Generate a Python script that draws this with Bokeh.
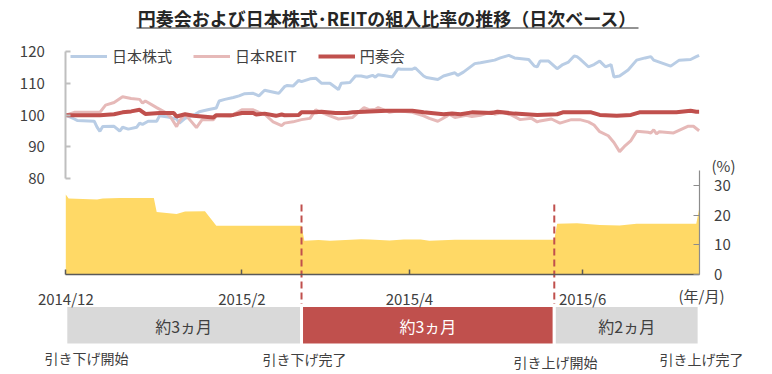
import pandas as pd
from bokeh.plotting import figure
from bokeh.models import (Range1d, LinearAxis, FixedTicker, Legend, LegendItem,
                          ColumnDataSource)
from bokeh.embed import file_html
from bokeh.resources import INLINE
from bokeh.core.properties import value

FONT = "Noto Sans CJK JP"

# ---------------- data ----------------
title_text = "円奏会および日本株式･REITの組入比率の推移（日次ベース）"
series_names = ["日本株式", "日本REIT", "円奏会"]

stock_dates = ["2014-12-01", "2014-12-04", "2014-12-05", "2014-12-11", "2014-12-12", "2014-12-13",
               "2014-12-14", "2014-12-18", "2014-12-20", "2014-12-21", "2014-12-23", "2014-12-26",
               "2014-12-27", "2014-12-28", "2014-12-30", "2015-01-02", "2015-01-03", "2015-01-06",
               "2015-01-09", "2015-01-10", "2015-01-12", "2015-01-15", "2015-01-17", "2015-01-20",
               "2015-01-23", "2015-01-24", "2015-01-26", "2015-01-29", "2015-01-31", "2015-02-02",
               "2015-02-05", "2015-02-07", "2015-02-09", "2015-02-13", "2015-02-14", "2015-02-16",
               "2015-02-17", "2015-02-19", "2015-02-21", "2015-02-22", "2015-02-25", "2015-02-27",
               "2015-03-01", "2015-03-04", "2015-03-07", "2015-03-08", "2015-03-11", "2015-03-13",
               "2015-03-15", "2015-03-17", "2015-03-19", "2015-03-20", "2015-03-21", "2015-03-24",
               "2015-03-26", "2015-03-28", "2015-03-29", "2015-04-02", "2015-04-03", "2015-04-06",
               "2015-04-07", "2015-04-11", "2015-04-13", "2015-04-17", "2015-04-18", "2015-04-20",
               "2015-04-24", "2015-04-26", "2015-05-01", "2015-05-03", "2015-05-06", "2015-05-08",
               "2015-05-13", "2015-05-15", "2015-05-16", "2015-05-17", "2015-05-20", "2015-05-23",
               "2015-05-25", "2015-05-27", "2015-05-29", "2015-05-30", "2015-05-31", "2015-06-03",
               "2015-06-05", "2015-06-07", "2015-06-09", "2015-06-11", "2015-06-12", "2015-06-14",
               "2015-06-17", "2015-06-20", "2015-06-23", "2015-06-25", "2015-06-26", "2015-07-02",
               "2015-07-05", "2015-07-09", "2015-07-11", "2015-07-12"]
stock_values = [100.0, 98.8, 98.35, 98.1, 96.2, 94.9,
                96.4, 96.5, 95.0, 96.2, 95.6, 96.2,
                97.5, 97.1, 98.1, 98.1, 99.8, 99.4,
                98.8, 97.5, 99.0, 100.0, 101.1, 101.7,
                102.3, 104.5, 105.0, 105.6, 106.1, 106.8,
                106.9, 106.1, 107.9, 107.1, 106.9, 109.0,
                109.4, 109.2, 111.0, 110.6, 111.5, 111.7,
                110.1, 110.1, 108.1, 110.1, 110.3, 112.4,
                112.4, 112.0, 112.6, 112.0, 112.8, 112.4,
                112.1, 114.7, 114.5, 114.5, 115.0, 112.4,
                111.9, 111.3, 112.4, 113.4, 112.6, 113.6,
                116.3, 116.6, 117.4, 118.1, 118.9, 118.1,
                117.6, 115.5, 115.3, 117.1, 117.1, 114.7,
                116.0, 116.8, 118.7, 118.5, 117.8, 115.3,
                116.0, 117.1, 115.3, 116.0, 112.1, 112.4,
                114.3, 117.4, 118.1, 118.5, 117.4, 115.5,
                117.4, 117.6, 118.5, 118.9]

reit_dates = ["2014-12-01", "2014-12-04", "2014-12-13", "2014-12-15", "2014-12-18", "2014-12-21",
              "2014-12-24", "2014-12-27", "2014-12-28", "2014-12-29", "2015-01-02", "2015-01-05",
              "2015-01-07", "2015-01-09", "2015-01-10", "2015-01-12", "2015-01-14", "2015-01-16",
              "2015-01-18", "2015-01-22", "2015-01-23", "2015-01-28", "2015-01-30", "2015-02-01",
              "2015-02-05", "2015-02-07", "2015-02-09", "2015-02-12", "2015-02-15", "2015-02-16",
              "2015-02-19", "2015-02-22", "2015-02-25", "2015-02-27", "2015-03-01", "2015-03-04",
              "2015-03-07", "2015-03-09", "2015-03-12", "2015-03-14", "2015-03-16", "2015-03-18",
              "2015-03-20", "2015-03-21", "2015-03-23", "2015-03-25", "2015-03-28", "2015-04-02",
              "2015-04-06", "2015-04-08", "2015-04-11", "2015-04-14", "2015-04-15", "2015-04-17",
              "2015-04-21", "2015-04-23", "2015-04-26", "2015-04-30", "2015-05-01", "2015-05-04",
              "2015-05-07", "2015-05-10", "2015-05-14", "2015-05-16", "2015-05-17", "2015-05-21",
              "2015-05-24", "2015-05-28", "2015-05-31", "2015-06-03", "2015-06-05", "2015-06-07",
              "2015-06-10", "2015-06-12", "2015-06-14", "2015-06-16", "2015-06-18", "2015-06-20",
              "2015-06-24", "2015-06-25", "2015-06-26", "2015-06-27", "2015-06-28", "2015-07-03",
              "2015-07-08", "2015-07-10", "2015-07-12"]
reit_values = [100.0, 100.9, 100.9, 103.2, 104.0, 105.8,
               105.3, 105.0, 103.8, 104.5, 102.4, 100.9,
               99.3, 96.4, 98.2, 100.3, 98.2, 96.1,
               98.6, 98.6, 99.8, 99.6, 100.7, 101.7,
               101.7, 100.9, 100.3, 97.9, 96.7, 97.5,
               97.9, 98.6, 99.0, 101.7, 100.9, 99.8,
               98.8, 99.0, 99.3, 100.9, 102.4, 101.7,
               101.9, 102.4, 101.7, 100.9, 101.4, 100.9,
               99.8, 99.0, 98.1, 99.6, 100.3, 99.3,
               100.0, 99.6, 100.0, 101.1, 100.3, 100.9,
               100.0, 98.6, 99.0, 97.9, 98.2, 98.8,
               97.5, 98.6, 98.6, 97.9, 96.9, 94.8,
               93.5, 91.4, 88.5, 90.4, 92.0, 94.9,
               94.6, 94.4, 95.4, 94.1, 94.8, 94.4,
               96.5, 96.5, 95.1]

fund_dates = ["2014-12-01", "2014-12-13", "2014-12-18", "2014-12-21", "2014-12-24", "2014-12-27",
              "2014-12-29", "2015-01-03", "2015-01-08", "2015-01-09", "2015-01-12", "2015-01-15",
              "2015-01-22", "2015-01-23", "2015-01-29", "2015-02-01", "2015-02-05", "2015-02-06",
              "2015-02-09", "2015-02-13", "2015-02-15", "2015-02-16", "2015-02-21", "2015-02-22",
              "2015-02-27", "2015-03-01", "2015-03-06", "2015-03-10", "2015-03-12", "2015-03-24",
              "2015-04-02", "2015-04-06", "2015-04-13", "2015-04-16", "2015-04-19", "2015-04-23",
              "2015-04-30", "2015-05-02", "2015-05-08", "2015-05-12", "2015-05-16", "2015-05-23",
              "2015-05-25", "2015-06-04", "2015-06-07", "2015-06-13", "2015-06-18", "2015-06-21",
              "2015-07-04", "2015-07-09", "2015-07-11", "2015-07-12"]
fund_values = [100.0, 100.0, 100.3, 100.9, 101.2, 101.7,
               100.4, 100.7, 100.7, 99.6, 100.3, 99.8,
               99.3, 100.0, 100.1, 100.7, 100.7, 100.2,
               100.5, 99.8, 100.2, 100.0, 100.1, 100.9,
               100.9, 101.1, 100.7, 100.7, 100.9, 101.4,
               101.4, 100.9, 100.3, 100.5, 100.3, 100.9,
               100.7, 101.1, 100.5, 100.3, 100.1, 100.3,
               100.9, 100.9, 100.1, 99.8, 100.1, 100.9,
               100.9, 101.4, 101.1, 101.1]

weight_dates = ["2014-12-01", "2014-12-02", "2014-12-12", "2014-12-14", "2014-12-20", "2015-01-01",
                "2015-01-02", "2015-01-09", "2015-01-12", "2015-01-19", "2015-01-23", "2015-02-22",
                "2015-02-23", "2015-02-28", "2015-03-04", "2015-03-15", "2015-03-18", "2015-03-25",
                "2015-03-30", "2015-04-05", "2015-04-08", "2015-04-17", "2015-05-22", "2015-05-23",
                "2015-05-30", "2015-06-07", "2015-06-14", "2015-06-20", "2015-07-11", "2015-07-12"]
weight_values = [27.0, 25.6, 25.3, 25.6, 25.8, 25.8,
                 21.1, 20.4, 21.2, 21.3, 16.4, 16.4,
                 11.4, 11.6, 11.4, 11.9, 11.8, 11.5,
                 11.8, 11.8, 11.4, 11.7, 11.7, 17.1,
                 17.3, 16.7, 16.5, 17.1, 17.1, 22.1]

top_ticks = [80, 90, 100, 110, 120]
weight_ticks = [0, 10, 20, 30]
month_ticks = ["2014-12-01", "2015-02-01", "2015-04-01", "2015-06-01"]
month_labels = ["2014/12", "2015/2", "2015/4", "2015/6"]
change_dates = ["2015-02-22", "2015-05-22"]
period_starts = ["2014-12-01", "2015-02-22", "2015-05-22"]
period_ends = ["2015-02-22", "2015-05-22", "2015-07-12"]
period_labels = ["約3ヵ月", "約3ヵ月", "約2ヵ月"]
event_labels = ["引き下げ開始", "引き下げ完了", "引き上げ開始", "引き上げ完了"]

# ---------------- layout constants ----------------
W, H = 772, 374
OFF = 0                   # canvas coords == picture coords
X0_PX = 65.3              # picture x of first date
PX_PER_DAY = 2.84
DAY_MS = 86400000.0


def ms(d):
    return int((pd.Timestamp(d) - pd.Timestamp("1970-01-01")) / pd.Timedelta(milliseconds=1))


start_ms = ms(stock_dates[0])
end_ms = ms(period_ends[-1])
x_range = Range1d(start_ms - (X0_PX - OFF) / PX_PER_DAY * DAY_MS,
                  start_ms + (W + OFF - X0_PX) / PX_PER_DAY * DAY_MS)

# value->pixel calibrations (picture pixel coords)
TOP_80_Y, TOP_120_Y = 178.0, 51.4
tpp = (TOP_80_Y - TOP_120_Y) / 40.0
top_range = Range1d(80 - (H + OFF - TOP_80_Y) / tpp, 120 + (TOP_120_Y - OFF) / tpp)
BOT_0_Y, BOT_30_Y = 274.0, 185.0
bpp = (BOT_0_Y - BOT_30_Y) / 30.0
bot_range = Range1d(0 - (H + OFF - BOT_0_Y) / bpp, 30 + (BOT_30_Y - OFF) / bpp)

p = figure(width=W, height=H, x_range=x_range, y_range=Range1d(H + OFF, OFF),
           x_axis_type=None, y_axis_type=None, output_backend="svg",
           toolbar_location=None, min_border=0, outline_line_color=None,
           background_fill_color="white", border_fill_color="white")
p.title.visible = False
p.extra_y_ranges = {"top": top_range, "bot": bot_range}
p.extra_x_ranges = {"px": Range1d(OFF, W + OFF)}

TXT = "#404040"

# ---- weight area ----
wsrc = ColumnDataSource(dict(x=pd.to_datetime(weight_dates), y=weight_values))
p.varea(x="x", y1=0, y2="y", source=wsrc, y_range_name="bot", fill_color="#FFD966")

# ---- dashed change lines ----
p.segment(x0=pd.to_datetime(change_dates), x1=pd.to_datetime(change_dates),
          y0=204, y1=306, line_color="#C0504D", line_width=2, line_dash="7 4")

# ---- lines ----
colors = ["#B9CDE5", "#E6B9B8", "#C0504D"]
widths = [3, 3, 4]
renderers = []
for dates, vals, c, w in [(stock_dates, stock_values, colors[0], widths[0]),
                          (reit_dates, reit_values, colors[1], widths[1]),
                          (fund_dates, fund_values, colors[2], widths[2])]:
    src = ColumnDataSource(dict(x=pd.to_datetime(dates), y=vals))
    r = p.line("x", "y", source=src, y_range_name="top", line_color=c, line_width=w)
    renderers.append(r)

legend = Legend(items=[LegendItem(label=n, renderers=[r]) for n, r in zip(series_names, renderers)],
                orientation="horizontal", location=(70, 308),
                label_text_font=FONT, label_text_font_size="15px", label_text_color=TXT,
                glyph_width=37, glyph_height=20, label_height=20, label_standoff=5,
                spacing=21, padding=0, margin=0, border_line_color=None,
                background_fill_alpha=0)
p.add_layout(legend)

# ---- axes ----
left_axis = LinearAxis(y_range_name="top", bounds=(80, 120), ticker=FixedTicker(ticks=top_ticks),
                       fixed_location=start_ms)
right_axis = LinearAxis(y_range_name="bot", bounds=(0, 35), ticker=FixedTicker(ticks=weight_ticks),
                        fixed_location=end_ms)
bottom_axis = LinearAxis(y_range_name="bot", fixed_location=0, bounds=(start_ms, end_ms),
                         ticker=FixedTicker(ticks=[ms(m) for m in month_ticks]),
                         major_label_overrides={ms(m): l for m, l in zip(month_ticks, month_labels)})
for ax, col, wd, tin, so in [(left_axis, "#BFBFBF", 2, 5, 21),
                             (right_axis, "#8C8C8C", 1.2, 6, 15),
                             (bottom_axis, "#595959", 1.5, 5, 13)]:
    ax.axis_line_color = col
    ax.axis_line_width = wd
    ax.major_tick_line_color = col
    ax.major_tick_line_width = wd
    ax.major_tick_in = tin
    ax.major_tick_out = 0
    ax.minor_tick_line_color = None
    ax.major_label_standoff = so
    ax.major_label_text_font = FONT
    ax.major_label_text_font_size = "15px"
    ax.major_label_text_color = TXT
p.add_layout(left_axis, "left")
p.add_layout(right_axis, "right")
p.add_layout(bottom_axis, "below")

# ---- period boxes ----
box_colors = ["#D9D9D9", "#C0504D", "#D9D9D9"]
box_text_colors = ["#404040", "#FFFFFF", "#404040"]
p.quad(left=pd.to_datetime(period_starts), right=pd.to_datetime(period_ends),
       top=305, bottom=344.5, fill_color=box_colors, line_color="white", line_width=3)
mids = [pd.Timestamp(a) + (pd.Timestamp(b) - pd.Timestamp(a)) / 2
        for a, b in zip(period_starts, period_ends)]
p.text(x=mids, y=[325] * 3, text=period_labels, text_color=box_text_colors,
       text_align="center", text_baseline="middle", text_font=value(FONT),
       text_font_size="16px")

# ---- event captions ----
p.text(x=[86, 304, 555, 701], y=[357, 358, 361, 358], text=event_labels, x_range_name="px",
       text_color=TXT, text_align="center", text_baseline="middle",
       text_font=value(FONT), text_font_size="14px")

# ---- unit labels ----
p.text(x=[723, 701], y=[165, 295], text=["(%)", "(年/月)"], x_range_name="px",
       text_color=TXT, text_align="center", text_baseline="middle",
       text_font=value(FONT), text_font_size="15px")

# ---- title ----
p.text(x=[387], y=[17], text=[title_text], x_range_name="px", text_color="#262626",
       text_align="center", text_baseline="middle", text_font=value(FONT),
       text_font_size="18px", text_font_style="bold")
p.segment(x0=[136], x1=[638], y0=[27.5], y1=[27.5], x_range_name="px",
          line_color="#262626", line_width=1)

with open("out.html", "w") as f:
    f.write(file_html(p, INLINE))
